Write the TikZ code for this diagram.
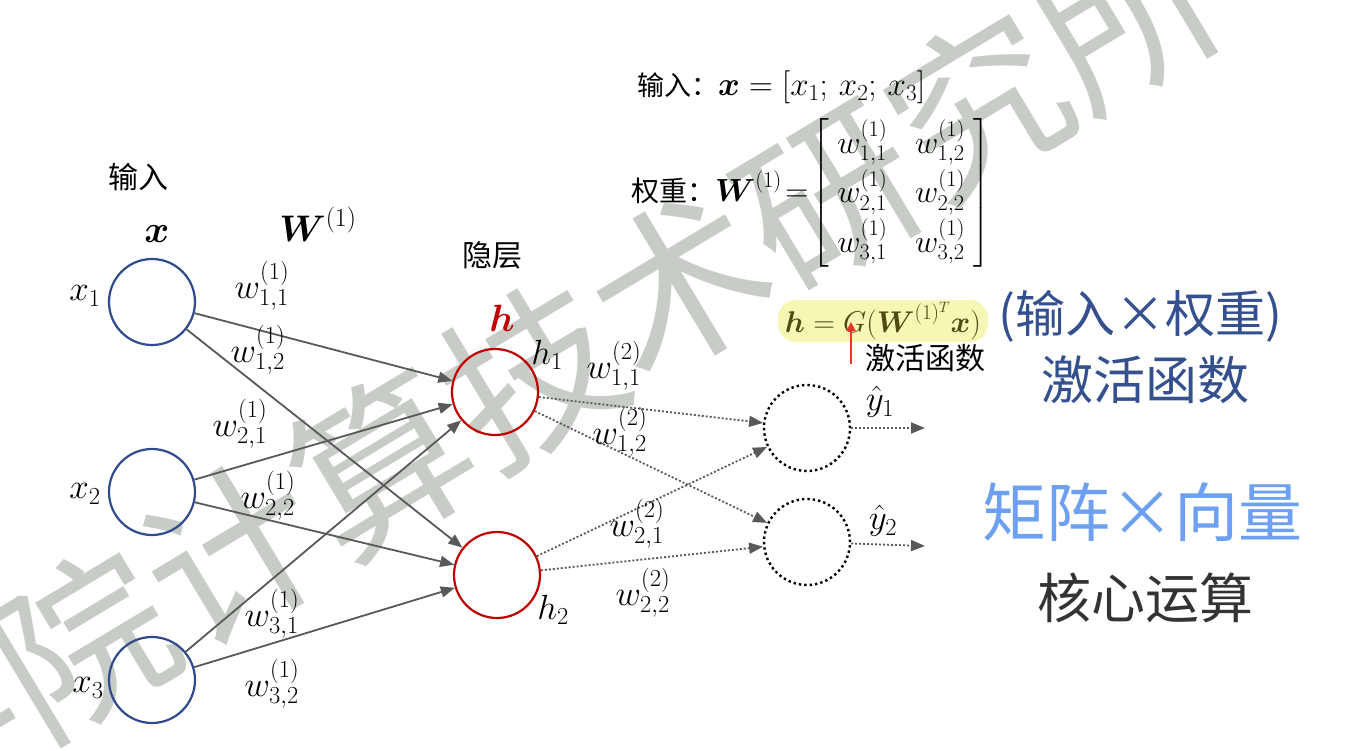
\RequirePackage{fix-cm}
\documentclass[tikz,border=0pt]{standalone}
\usepackage{amsmath}
\usepackage{fontspec}
\newfontfamily\cjk{Noto Sans CJK SC}
\usetikzlibrary{arrows.meta}
\definecolor{inblue}{HTML}{2F4B8C}
\definecolor{hidred}{HTML}{C00000}
\definecolor{arrgray}{HTML}{595959}
\definecolor{wmgray}{HTML}{C8CCC6}
\definecolor{hlyellow}{HTML}{F7F7B5}
\definecolor{olivetext}{HTML}{4D4A12}
\definecolor{hwblue}{HTML}{34508E}
\definecolor{hwlight}{HTML}{6EA0F2}
\definecolor{hwblack}{HTML}{333333}
\definecolor{actred}{HTML}{E8382A}
\newcommand{\wlab}[3]{$w^{(#1)}_{#2,#3}$}
\begin{document}
\begin{tikzpicture}[x=1pt,y=-1pt,
  nrn/.style={circle, minimum size=86pt, inner sep=0pt, line width=2.2pt},
  inp/.style={nrn, draw=inblue},
  hid/.style={nrn, draw=hidred},
  outn/.style={nrn, draw=black, line width=2.4pt, dash pattern=on 2.4pt off 3pt},
  conn/.style={draw=arrgray, line width=1.8pt, -{Triangle[length=14pt,width=11pt]}},
  dconn/.style={conn, dash pattern=on 2pt off 2pt},
  lbl/.style={inner sep=0pt, font=\fontsize{35}{42}\selectfont},
  cn/.style={inner sep=0pt, font=\cjk\fontsize{30}{34}\selectfont},
  hw/.style={inner sep=0pt, font=\cjk\fontsize{#1}{#1}\selectfont},
]
\useasboundingbox (0,0) rectangle (1371,750);
\clip (0,0) rectangle (1371,750);
\fill[white] (0,0) rectangle (1371,750);

% watermark
\node[rotate=31, text=wmgray, inner sep=0pt, font=\cjk\fontsize{174}{174}\selectfont] (wm) at (307,508) {中国科学院计算技术研究所};

% neurons
\node[inp] (x1) at (152,302) {};
\node[inp] (x2) at (152,492) {};
\node[inp] (x3) at (152,680) {};
\node[hid] (h1) at (495,392) {};
\node[hid] (h2) at (497,575) {};
\node[outn] (y1) at (807,428) {};
\node[outn] (y2) at (807,542) {};
\coordinate (o1) at (925,428);
\coordinate (o2) at (925,546);

% connectors layer 1
\draw[conn] (x1) -- (h1);
\draw[conn] (x1) -- (h2);
\draw[conn] (x2) -- (h1);
\draw[conn] (x2) -- (h2);
\draw[conn] (x3) -- (h1);
\draw[conn] (x3) -- (h2);
% layer 2
\draw[dconn] (h1) -- (y1);
\draw[dconn] (h1) -- (y2);
\draw[dconn] (h2) -- (y1);
\draw[dconn] (h2) -- (y2);
\draw[dconn] (y1) -- (o1);
\draw[dconn] (y2) -- (o2);

% labels
\node[cn] (tin) at (138,177) {输入};
\node[lbl, font=\fontsize{38}{44}\selectfont] (tx) at (157,234) {$\boldsymbol{x}$};
\node[lbl, font=\fontsize{37}{44}\selectfont] (tW) at (318,224) {$\boldsymbol{W}^{(1)}$};
\node[cn] (thid) at (492,255) {隐层};
\node[lbl, text=hidred, font=\fontsize{38}{44}\selectfont] (th) at (502,318) {$\boldsymbol{h}$};

\node[lbl] (lx1) at (85,296) {$x_1$};
\node[lbl] (lx2) at (85,494) {$x_2$};
\node[lbl] (lx3) at (88,688) {$x_3$};
\node[lbl] (lh1) at (547,355) {$h_1$};
\node[lbl] (lh2) at (553,610) {$h_2$};
\node[lbl] (ly1) at (880,402) {$\hat{y}_1$};
\node[lbl] (ly2) at (883,521) {$\hat{y}_2$};

\node[lbl] (w11) at (262,286) {\wlab{1}{1}{1}};
\node[lbl] (w12) at (258,350) {\wlab{1}{1}{2}};
\node[lbl] (w21) at (240,424) {\wlab{1}{2}{1}};
\node[lbl] (w22) at (268,496) {\wlab{1}{2}{2}};
\node[lbl] (w31) at (272,614) {\wlab{1}{3}{1}};
\node[lbl] (w32) at (272,684) {\wlab{1}{3}{2}};
\node[lbl] (v11) at (614,366) {\wlab{2}{1}{1}};
\node[lbl] (v12) at (620,432) {\wlab{2}{1}{2}};
\node[lbl] (v21) at (637,524) {\wlab{2}{2}{1}};
\node[lbl] (v22) at (643,593) {\wlab{2}{2}{2}};

% equations
\node[lbl, anchor=west, font=\fontsize{33}{38}\selectfont] (eqx) at (637,87) {{\cjk\fontsize{27}{30}\selectfont 输入：}$\boldsymbol{x}=[x_1;\,x_2;\,x_3]$};
\node[lbl, anchor=west, font=\fontsize{32}{38}\selectfont] (eqw) at (631,193) {{\cjk\fontsize{28}{30}\selectfont 权重：}\setlength{\arraycolsep}{14pt}\renewcommand{\arraystretch}{1.3}$\boldsymbol{W}^{(1)}\!=\!\left[\!\begin{array}{cc} w^{(1)}_{1,1} & w^{(1)}_{1,2}\\ w^{(1)}_{2,1} & w^{(1)}_{2,2}\\ w^{(1)}_{3,1} & w^{(1)}_{3,2}\end{array}\!\right]$};

\node[lbl, fill=hlyellow, rounded corners=18pt, minimum width=210pt, minimum height=42pt, text=olivetext, font=\fontsize{30}{36}\selectfont] (hf) at (883,321) {$\boldsymbol{h}=G(\boldsymbol{W}^{(1)^{T}}\boldsymbol{x})$};
\node[cn] (act) at (925,358) {激活函数};
\coordinate (ra) at (851,364);
\coordinate (rb) at (851,322);
\draw[actred, line width=2pt, -{Triangle[length=9pt,width=9pt]}] (ra) -- (rb);

% handwritten notes
\node[hw=50, text=hwblue] (n1) at (1140,316) {(输入×权重)};
\node[hw=52, text=hwblue] (n2) at (1145,380) {激活函数};
\node[hw=64, text=hwlight] (n3) at (1142,512) {矩阵×向量};
\node[hw=54, text=hwblack] (n4) at (1145,598) {核心运算};
\end{tikzpicture}
\end{document}
